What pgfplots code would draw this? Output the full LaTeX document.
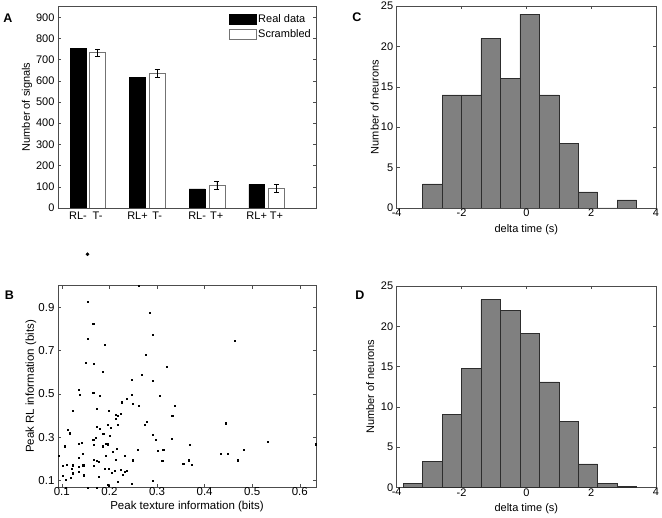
\documentclass[border=0pt]{standalone}
\usepackage{fontspec}
\setmainfont{Liberation Sans}
\usepackage{pgfplots}
\pgfplotsset{compat=1.18}
\definecolor{histgray}{RGB}{128,128,128}
\definecolor{edgegray}{RGB}{45,45,45}
\newcommand{\fA}{\fontsize{11}{13}\selectfont}
\newcommand{\fB}{\fontsize{11.5}{13}\selectfont}
\pgfplotsset{
  mystyle/.style={
    scale only axis,
    axis line style={black!70, line width=0.6pt},
    tick align=inside,
    major tick length=3pt,
    tick style={black!70, line width=0.5pt},
    /pgf/number format/assume math mode=true,
  },
}
\begin{document}
\begin{tikzpicture}
\useasboundingbox (0pt,0pt) rectangle (662pt,-518pt);

% ---------------- A ----------------
\begin{axis}[mystyle,
  at={(58pt,-6pt)}, anchor=north west, width=258pt, height=202pt,
  xmin=0.5, xmax=4.83, ymin=0, ymax=953,
  ytick={0,100,200,300,400,500,600,700,800,900},
  xtick={0.835,1.165,1.835,2.165,2.835,3.165,3.835,4.165},
  xticklabels={RL-,T-,RL+,T-,RL-,T+,RL+,T+},
  major x tick style={draw=none},
  ticklabel style={font=\fA},
  ylabel={Number of signals},
  ylabel style={font=\fA, at={(axis description cs:0,0.5)}, anchor=center, yshift=31pt},
  legend style={at={(1,1)}, anchor=north east, xshift=-3pt, yshift=-6pt, draw=none, fill=none,
     font=\fA, row sep=2pt, cells={anchor=west}, inner sep=0pt},
  legend image code/.code={\draw[#1] (0pt,-5.2pt) rectangle (26.7pt,5.2pt);},
]
\addplot[ybar, bar width=0.267, bar shift=0pt, fill=black, draw=black]
  coordinates {(0.835,753) (1.835,617) (2.835,90) (3.835,112)};
\addplot[ybar, bar width=0.267, bar shift=0pt, fill=white, draw=black!55,
  error bars/.cd, y dir=both, y explicit,
  error bar style={black, line width=0.4pt},
  error mark options={rotate=90, mark size=2.5pt, black, line width=0.4pt}]
  coordinates {(1.165,733) +- (0,18) (2.165,635) +- (0,18) (3.165,108) +- (0,20) (4.165,92) +- (0,18)};
\legend{Real data, Scrambled}
\end{axis}

% ---------------- B ----------------
\begin{axis}[mystyle,
  at={(58pt,-285.7pt)}, anchor=north west, width=258pt, height=201.6pt,
  xmin=0.092, xmax=0.634, ymin=0.069, ymax=1.0,
  xtick={0.1,0.2,0.3,0.4,0.5,0.6},
  ytick={0.1,0.3,0.5,0.7,0.9},
  clip=false,
  ticklabel style={font=\fB, /pgf/number format/fixed, /pgf/number format/precision=1},
  xticklabel style={yshift=3.5pt},
  xlabel={Peak texture information (bits)},
  ylabel={Peak RL information (bits)},
  xlabel style={font=\fB, at={(axis description cs:0.5,0)}, anchor=center, yshift=-19pt},
  ylabel style={font=\fB, at={(axis description cs:0,0.5)}, anchor=center, yshift=27pt},
]
\addplot[only marks, mark=square*, mark size=0.55pt, black] coordinates {
(0.261,0.998) (0.154,0.926) (0.284,0.875) (0.166,0.823) (0.291,0.774) (0.155,0.757)
(0.463,0.747) (0.190,0.726) (0.277,0.683) (0.150,0.646) (0.167,0.638) (0.321,0.626)
(0.185,0.601) (0.268,0.589) (0.247,0.567) (0.291,0.561) (0.136,0.518) (0.137,0.496)
(0.166,0.507) (0.180,0.492) (0.247,0.496) (0.306,0.490) (0.237,0.478) (0.225,0.462)
(0.249,0.455) (0.261,0.447) (0.338,0.447) (0.173,0.433) (0.122,0.421) (0.198,0.422)
(0.224,0.408) (0.214,0.404) (0.218,0.399) (0.332,0.399) (0.214,0.385) (0.279,0.373)
(0.275,0.359) (0.445,0.365) (0.197,0.359) (0.218,0.357) (0.173,0.347) (0.180,0.339)
(0.202,0.344) (0.113,0.334) (0.116,0.319) (0.187,0.317) (0.290,0.311) (0.201,0.307)
(0.171,0.299) (0.330,0.294) (0.166,0.289) (0.298,0.288) (0.533,0.279) (0.167,0.266)
(0.193,0.270) (0.197,0.268) (0.368,0.266) (0.634,0.268) (0.136,0.270) (0.141,0.276)
(0.106,0.259) (0.185,0.259) (0.216,0.248) (0.260,0.242) (0.302,0.240) (0.313,0.242)
(0.483,0.242) (0.207,0.234) (0.434,0.223) (0.449,0.225) (0.143,0.223) (0.093,0.214)
(0.193,0.214) (0.233,0.215) (0.136,0.206) (0.167,0.196) (0.174,0.191) (0.178,0.188)
(0.214,0.196) (0.248,0.194) (0.311,0.192) (0.367,0.194) (0.470,0.194) (0.355,0.178)
(0.373,0.172) (0.167,0.168) (0.101,0.168) (0.111,0.172) (0.123,0.171) (0.136,0.165)
(0.145,0.171) (0.120,0.155) (0.190,0.154) (0.199,0.154) (0.212,0.145) (0.223,0.151)
(0.237,0.146) (0.233,0.139) (0.204,0.137) (0.227,0.128) (0.136,0.139) (0.123,0.134)
(0.146,0.125) (0.101,0.122) (0.178,0.120) (0.118,0.112) (0.109,0.103) (0.290,0.100)
(0.218,0.093) (0.108,0.069) (0.154,0.069) (0.173,0.068) (0.197,0.080) (0.199,0.075)
(0.246,0.085)
};
\addplot[only marks, mark=*, mark size=1.6pt, black] coordinates {(0.154,1.145)};
\end{axis}

% ---------------- C ----------------
\begin{axis}[mystyle,
  at={(396.7pt,-6pt)}, anchor=north west, width=259.3pt, height=202pt,
  xmin=-4, xmax=4, ymin=0, ymax=25,
  xtick={-4,-2,0,2,4}, ytick={0,5,10,15,20,25},
  ticklabel style={font=\fA},
  xticklabel style={yshift=2.5pt},
  xlabel={delta time (s)},
  ylabel={Number of neurons},
  xlabel style={font=\fA, at={(axis description cs:0.5,0)}, anchor=center, yshift=-22pt},
  ylabel style={font=\fA, at={(axis description cs:0,0.5)}, anchor=center, yshift=22pt},
]
\addplot[ybar interval, fill=histgray, draw=edgegray, line width=0.5pt] coordinates {
(-3.2,3) (-2.6,14) (-2.0,14) (-1.4,21) (-0.8,16) (-0.2,24) (0.4,14) (1.0,8) (1.6,2) (2.2,0) (2.8,1) (3.4,1)
};
\end{axis}

% ---------------- D ----------------
\begin{axis}[mystyle,
  at={(396.7pt,-286pt)}, anchor=north west, width=259.3pt, height=201.3pt,
  xmin=-4, xmax=4, ymin=0, ymax=25,
  xtick={-4,-2,0,2,4}, ytick={0,5,10,15,20,25},
  ticklabel style={font=\fA},
  xticklabel style={yshift=2.5pt},
  xlabel={delta time (s)},
  ylabel={Number of neurons},
  xlabel style={font=\fA, at={(axis description cs:0.5,0)}, anchor=center, yshift=-21pt},
  ylabel style={font=\fA, at={(axis description cs:0,0.5)}, anchor=center, yshift=26.5pt},
]
\addplot[ybar interval, fill=histgray, draw=edgegray, line width=0.5pt] coordinates {
(-3.8,0.5) (-3.2,3.25) (-2.6,9.1) (-2.0,14.8) (-1.4,23.3) (-0.8,22.0) (-0.2,19.1) (0.4,13.1) (1.0,8.2) (1.6,2.9) (2.2,0.5) (2.8,0.15) (3.4,0.15)
};
\end{axis}

% panel letters
\node[font=\bfseries\fontsize{12.5}{14}\selectfont] at (8pt,-18pt) {A};
\node[font=\bfseries\fontsize{12.5}{14}\selectfont] at (9.5pt,-295pt) {B};
\node[font=\bfseries\fontsize{12.5}{14}\selectfont] at (357pt,-17.7pt) {C};
\node[font=\bfseries\fontsize{12.5}{14}\selectfont] at (360pt,-295.7pt) {D};
\end{tikzpicture}
\end{document}
